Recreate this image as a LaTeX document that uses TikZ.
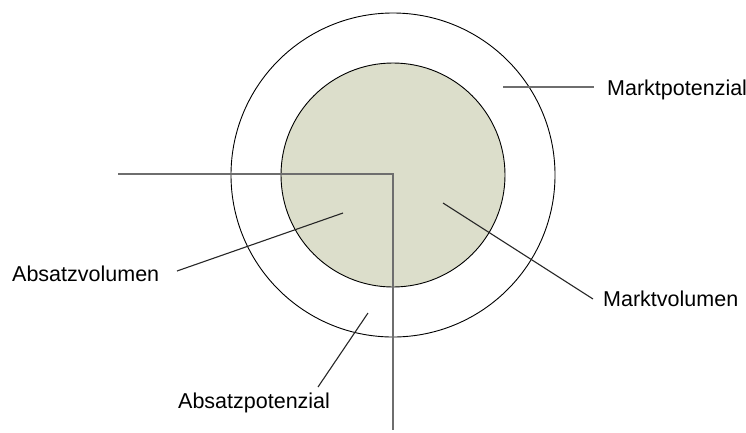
\documentclass[tikz,border=0pt]{standalone}
\usepackage{fontspec}
\setmainfont{Liberation Sans}
\definecolor{fillgreen}{RGB}{220,222,203}
\definecolor{leadgray}{RGB}{110,110,110}
\begin{document}
\begin{tikzpicture}[x=1pt,y=-1pt,
  circ/.style={draw=black,line width=0.9pt},
  lead/.style={draw=black!85,line width=1.1pt},
  axis/.style={draw=leadgray,line width=1.6pt},
  lbl/.style={anchor=base west,inner sep=0pt,font=\fontsize{21.5}{24}\selectfont,text=black}]
\useasboundingbox (0,0) rectangle (746,432);
\coordinate (c) at (393,175);
\draw[circ] (c) circle[radius=162];
\draw[circ,fill=fillgreen] (c) circle[radius=112];
\coordinate (hl) at (118,174);
\coordinate (corner) at (393,174);
\coordinate (vb) at (393,430);
\draw[axis] (hl) -- (corner) -- (vb);
\node[lbl] (mp) at (607,95) {Marktpotenzial};
\node[lbl] (mv) at (603,306) {Marktvolumen};
\node[lbl] (av) at (12,281) {Absatzvolumen};
\node[lbl] (ap) at (178,408) {Absatzpotenzial};
\coordinate (mps) at (503,87);
\coordinate (mpe) at (594,87);
\coordinate (mvs) at (443,203);
\coordinate (mve) at (593,299);
\coordinate (avs) at (343,213);
\coordinate (ave) at (177,271);
\coordinate (aps) at (368,313);
\coordinate (ape) at (318,387);
\draw[axis,line width=1.4pt] (mps) -- (mpe);
\draw[lead] (mvs) -- (mve);
\draw[lead] (avs) -- (ave);
\draw[lead] (aps) -- (ape);
\end{tikzpicture}
\end{document}
